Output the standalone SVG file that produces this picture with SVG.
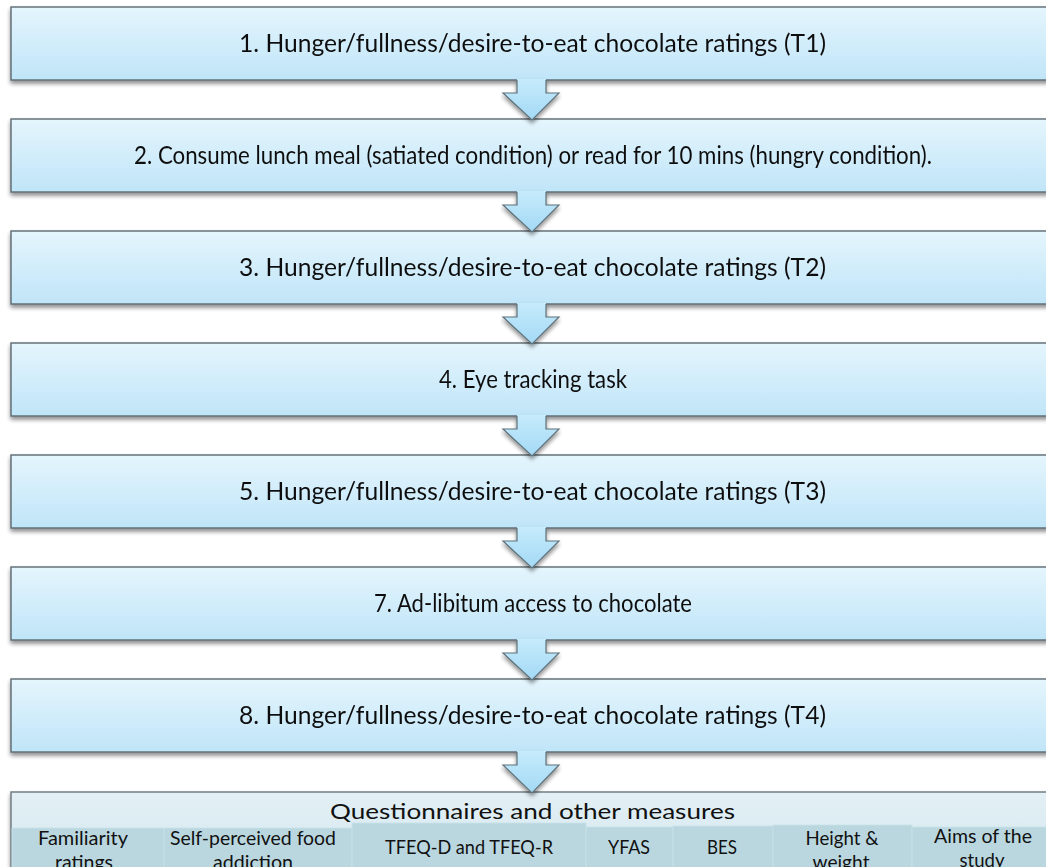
<svg xmlns="http://www.w3.org/2000/svg" width="1046" height="867" viewBox="0 0 1046 867">
  <defs>
    <linearGradient id="stepFill" x1="0" y1="0" x2="0" y2="1">
      <stop offset="0" stop-color="#e4f5fd"/>
      <stop offset="1" stop-color="#c0e5f8"/>
    </linearGradient>
    <linearGradient id="arrowFill" x1="0" y1="0" x2="0" y2="1">
      <stop offset="0" stop-color="#c6ebfc"/>
      <stop offset="1" stop-color="#a3d9f5"/>
    </linearGradient>
    <linearGradient id="measuresFill" x1="0" y1="0" x2="0" y2="1">
      <stop offset="0" stop-color="#e3f0f5"/>
      <stop offset="1" stop-color="#d2e7ee"/>
    </linearGradient>
    <filter id="shadow" x="-5%" y="-20%" width="110%" height="160%">
      <feGaussianBlur in="SourceAlpha" stdDeviation="2"/>
      <feOffset dx="0" dy="3" result="b"/>
      <feComponentTransfer><feFuncA type="linear" slope="0.45"/></feComponentTransfer>
      <feMerge><feMergeNode/><feMergeNode in="SourceGraphic"/></feMerge>
    </filter>
  </defs>
  <style>
    .step { fill: url(#stepFill); stroke: #5d6a70; stroke-width: 1.4; }
    .measures { fill: url(#measuresFill); stroke: #6b777c; stroke-width: 1.4; }
    .cell { fill: #bad7e0; stroke: #c8e1e9; stroke-width: 0.8; }
    .label { font-family: Lato, "Open Sans", "Liberation Sans", sans-serif; fill: #111; text-anchor: middle; }
    .main { font-size: 25.5px; }
    .title { font-size: 21.5px; }
    .small { font-size: 19px; }
    .arrow-body { fill: url(#arrowFill); stroke: none; }
    .arrow-edge { fill: none; stroke: #5f737c; stroke-width: 1.2; stroke-linejoin: miter; }
  </style>

  <rect width="1046" height="867" fill="#ffffff"/>

  <g id="step1" filter="url(#shadow)">
    <rect class="step" x="11" y="7" width="1050" height="73"/>
    <text class="label main" x="532.5" y="52" textLength="587" lengthAdjust="spacingAndGlyphs">1. Hunger/fullness/desire-to-eat chocolate ratings (T1)</text>
  </g>
  <g id="step2" filter="url(#shadow)">
    <rect class="step" x="11" y="119" width="1050" height="73"/>
    <text class="label main" x="533" y="164" textLength="798" lengthAdjust="spacingAndGlyphs">2. Consume lunch meal (satiated condition) or read for 10 mins (hungry condition).</text>
  </g>
  <g id="step3" filter="url(#shadow)">
    <rect class="step" x="11" y="231" width="1050" height="73"/>
    <text class="label main" x="532.5" y="276" textLength="587" lengthAdjust="spacingAndGlyphs">3. Hunger/fullness/desire-to-eat chocolate ratings (T2)</text>
  </g>
  <g id="step4" filter="url(#shadow)">
    <rect class="step" x="11" y="343" width="1050" height="73"/>
    <text class="label main" x="533" y="388" textLength="188" lengthAdjust="spacingAndGlyphs">4. Eye tracking task</text>
  </g>
  <g id="step5" filter="url(#shadow)">
    <rect class="step" x="11" y="455" width="1050" height="73"/>
    <text class="label main" x="532.5" y="500" textLength="587" lengthAdjust="spacingAndGlyphs">5. Hunger/fullness/desire-to-eat chocolate ratings (T3)</text>
  </g>
  <g id="step7" filter="url(#shadow)">
    <rect class="step" x="11" y="567" width="1050" height="73"/>
    <text class="label main" x="533" y="612" textLength="318" lengthAdjust="spacingAndGlyphs">7. Ad-libitum access to chocolate</text>
  </g>
  <g id="step8" filter="url(#shadow)">
    <rect class="step" x="11" y="679" width="1050" height="73"/>
    <text class="label main" x="532.5" y="724" textLength="587" lengthAdjust="spacingAndGlyphs">8. Hunger/fullness/desire-to-eat chocolate ratings (T4)</text>
  </g>

  <g id="measures">
    <rect class="measures" x="11" y="792" width="1050" height="80" filter="url(#shadow)"/>
    <text class="label title" x="532.5" y="819" textLength="405" lengthAdjust="spacingAndGlyphs">Questionnaires and other measures</text>
    <g id="measure-cells">
      <rect class="cell" x="12" y="828" width="152" height="40"/>
      <rect class="cell" x="164" y="828" width="188" height="40"/>
      <rect class="cell" x="352" y="823" width="234" height="45"/>
      <rect class="cell" x="586" y="827" width="87" height="41"/>
      <rect class="cell" x="673" y="826" width="100" height="42"/>
      <rect class="cell" x="773" y="825" width="139" height="43"/>
      <rect class="cell" x="912" y="827" width="140" height="41"/>
    </g>
    <g id="measure-familiarity">
      <text class="label small" x="83" y="845" textLength="90" lengthAdjust="spacingAndGlyphs">Familiarity</text>
      <text class="label small" x="84" y="869" textLength="58" lengthAdjust="spacingAndGlyphs">ratings</text>
    </g>
    <g id="measure-addiction">
      <text class="label small" x="253" y="845" textLength="166" lengthAdjust="spacingAndGlyphs">Self-perceived food</text>
      <text class="label small" x="253" y="869" textLength="80" lengthAdjust="spacingAndGlyphs">addiction</text>
    </g>
    <g id="measure-tfeq">
      <text class="label small" x="469" y="854" textLength="168" lengthAdjust="spacingAndGlyphs">TFEQ-D and TFEQ-R</text>
    </g>
    <g id="measure-yfas">
      <text class="label small" x="629" y="854" textLength="42" lengthAdjust="spacingAndGlyphs">YFAS</text>
    </g>
    <g id="measure-bes">
      <text class="label small" x="722" y="854" textLength="30" lengthAdjust="spacingAndGlyphs">BES</text>
    </g>
    <g id="measure-height">
      <text class="label small" x="842" y="845" textLength="73" lengthAdjust="spacingAndGlyphs">Height &amp;</text>
      <text class="label small" x="841" y="869" textLength="57" lengthAdjust="spacingAndGlyphs">weight</text>
    </g>
    <g id="measure-aims">
      <text class="label small" x="983" y="843" textLength="98" lengthAdjust="spacingAndGlyphs">Aims of the</text>
      <text class="label small" x="982" y="867" textLength="45" lengthAdjust="spacingAndGlyphs">study</text>
    </g>
  </g>

  <!-- downward block arrows between consecutive steps -->
  <g id="connectors" filter="url(#shadow)">
    <g>
      <path class="arrow-body" d="M517,79 H546 V93 H559 L532,120 L503,93 H517 Z"/>
      <path class="arrow-edge" d="M517,80 V93 H503 L532,120 L559,93 H546 V80"/>
    </g>
    <g>
      <path class="arrow-body" d="M517,191 H546 V205 H559 L532,232 L503,205 H517 Z"/>
      <path class="arrow-edge" d="M517,192 V205 H503 L532,232 L559,205 H546 V192"/>
    </g>
    <g>
      <path class="arrow-body" d="M517,303 H546 V317 H559 L532,344 L503,317 H517 Z"/>
      <path class="arrow-edge" d="M517,304 V317 H503 L532,344 L559,317 H546 V304"/>
    </g>
    <g>
      <path class="arrow-body" d="M517,415 H546 V429 H559 L532,456 L503,429 H517 Z"/>
      <path class="arrow-edge" d="M517,416 V429 H503 L532,456 L559,429 H546 V416"/>
    </g>
    <g>
      <path class="arrow-body" d="M517,527 H546 V541 H559 L532,568 L503,541 H517 Z"/>
      <path class="arrow-edge" d="M517,528 V541 H503 L532,568 L559,541 H546 V528"/>
    </g>
    <g>
      <path class="arrow-body" d="M517,639 H546 V653 H559 L532,680 L503,653 H517 Z"/>
      <path class="arrow-edge" d="M517,640 V653 H503 L532,680 L559,653 H546 V640"/>
    </g>
    <g>
      <path class="arrow-body" d="M517,751 H546 V765 H559 L532,793 L503,765 H517 Z"/>
      <path class="arrow-edge" d="M517,752 V765 H503 L532,793 L559,765 H546 V752"/>
    </g>
  </g>
</svg>
